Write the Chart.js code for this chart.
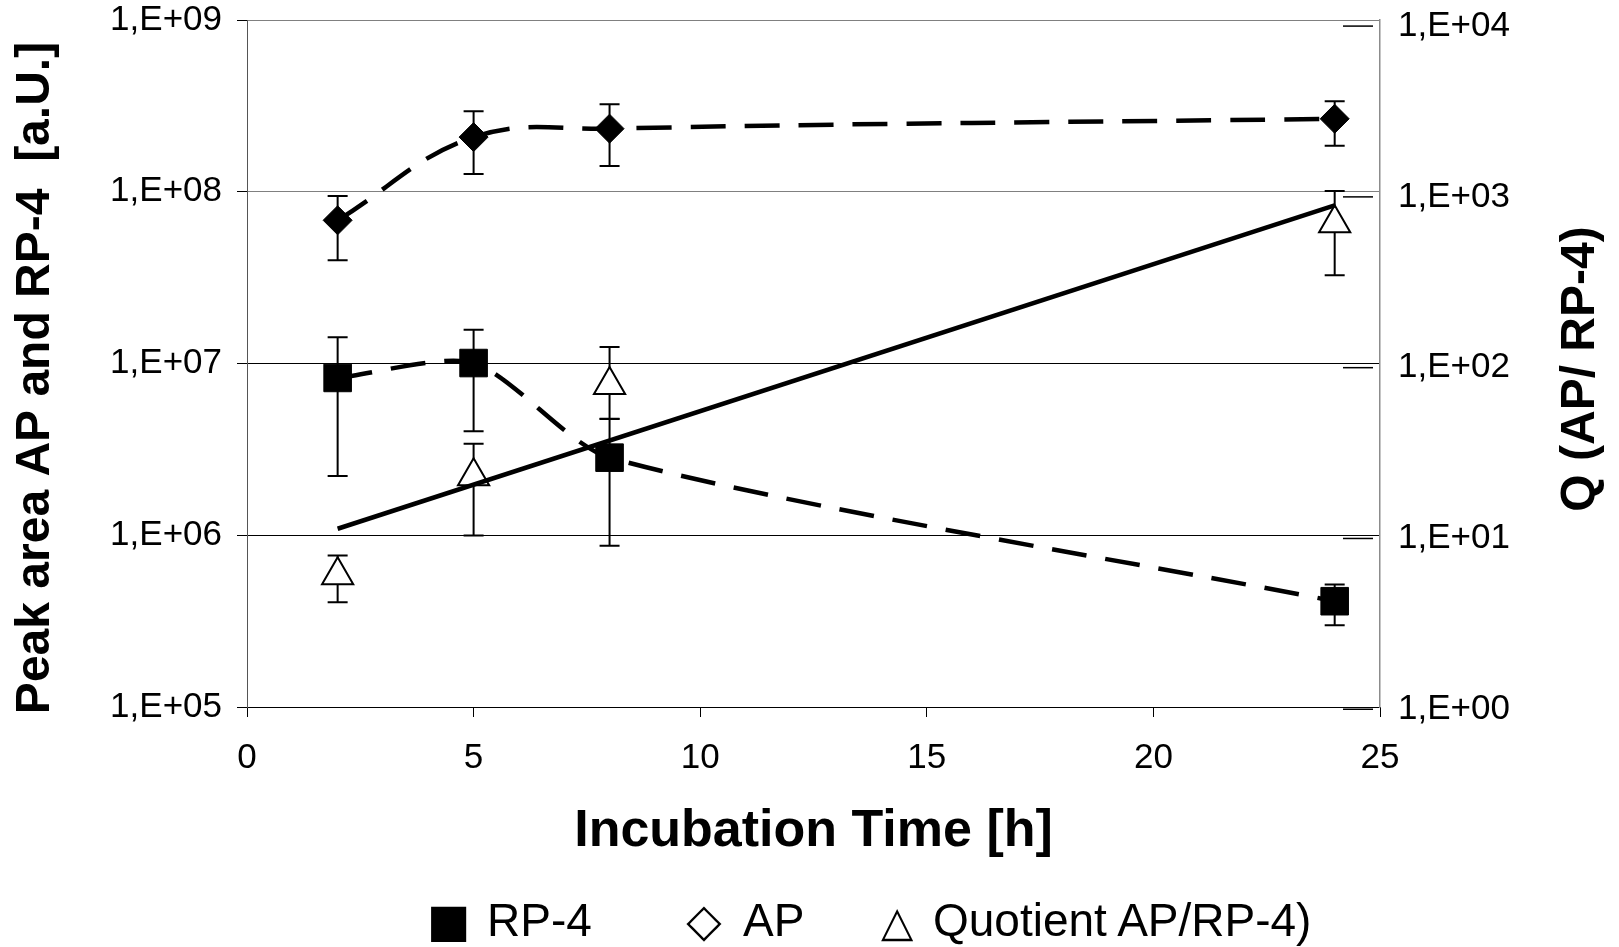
<!DOCTYPE html>
<html>
<head>
<meta charset="utf-8">
<title>Peak area AP and RP-4 vs incubation time</title>
<script src="https://cdn.jsdelivr.net/npm/chart.js@4.4.1/dist/chart.umd.min.js"></script>
<style>
  html, body { margin: 0; padding: 0; background: #fff; }
  #wrap { position: relative; width: 1619px; height: 947px; }
  #legend { position: absolute; left: 0; top: 0; width: 1619px; height: 947px; pointer-events: none;
            font-family: "Liberation Sans", Arial, sans-serif; font-size: 46px; color: #000; }
  #legend .item { position: absolute; top: 897px; display: flex; align-items: baseline; line-height: 46px; white-space: nowrap; }
  #legend .mk { display: inline-block; text-align: center; font-family: "DejaVu Sans", sans-serif; }
</style>
</head>
<body>
<div id="wrap">
  <canvas id="chart" width="1619" height="947"></canvas>
  <div id="legend"></div>
</div>
<script>
// Время инкубации (ч)
const hours = [2, 5, 8, 24];

// RP-4: площадь пика и границы ошибок
const rp4Values = [8.24e6, 1.006e7, 2.83e6, 4.13e5];
const rp4Low    = [2.21e6, 4.03e6, 8.7e5, 2.99e5];
const rp4High   = [1.42e7, 1.57e7, 4.75e6, 5.17e5];

// AP: площадь пика и границы ошибок
const apValues = [6.82e7, 2.08e8, 2.33e8, 2.66e8];
const apLow    = [3.99e7, 1.27e8, 1.41e8, 1.85e8];
const apHigh   = [9.44e7, 2.94e8, 3.23e8, 3.36e8];

// Частное AP/RP-4 (правая ось)
const quotientValues = [6.1, 23.1, 79.3, 701];
const quotientLow    = [4.23, 10.4, 50.2, 348];
const quotientHigh   = [7.96, 35.8, 132, 1083];

// Экспоненциальный тренд частного (концы линии)
const trendHours  = [2, 24];
const trendValues = [11.4, 893];

// Деления осей
const xTicks = [0, 5, 10, 15, 20, 25];
const leftTicks = [1e5, 1e6, 1e7, 1e8, 1e9];
const leftTickLabels = ['1,E+05', '1,E+06', '1,E+07', '1,E+08', '1,E+09'];
const rightTicks = [1, 10, 100, 1000, 10000];
const rightTickLabels = ['1,E+00', '1,E+01', '1,E+02', '1,E+03', '1,E+04'];

// Подписи
const seriesNames = ['RP-4', 'AP', 'Quotient AP/RP-4)'];
const legendGlyphs = ['\u25A0', '\u25C7', '\u25B3'];
const xTitle = 'Incubation Time [h]';
const leftTitle = 'Peak area AP and RP-4  [a.U.]';
const rightTitle = 'Q (AP/ RP-4)';

const FONT = '"Liberation Sans", Arial, sans-serif';
Chart.defaults.font.family = FONT;
Chart.defaults.color = '#000';

const toPoints = (xs, ys) => xs.map((x, i) => ({ x: x, y: ys[i] }));

// Планки погрешностей рисуются под маркерами
const errorBarsPlugin = {
    id: 'errorBars',
    beforeDatasetsDraw(chart) {
        const ctx = chart.ctx;
        const xScale = chart.scales.x;
        chart.data.datasets.forEach(ds => {
            if (!ds.errorLow) return;
            const yScale = chart.scales[ds.yAxisID];
            ctx.save();
            ctx.strokeStyle = '#000';
            ctx.lineWidth = 2;
            ds.data.forEach((p, j) => {
                const x = xScale.getPixelForValue(p.x);
                const yLo = yScale.getPixelForValue(ds.errorLow[j]);
                const yHi = yScale.getPixelForValue(ds.errorHigh[j]);
                ctx.beginPath();
                ctx.moveTo(x, yLo); ctx.lineTo(x, yHi);
                ctx.moveTo(x - 10, yLo); ctx.lineTo(x + 10, yLo);
                ctx.moveTo(x - 10, yHi); ctx.lineTo(x + 10, yHi);
                ctx.stroke();
            });
            ctx.restore();
        });
    }
};

// Короткие штрихи правой оси и повернутые заголовки осей Y
const axisDecorPlugin = {
    id: 'axisDecor',
    afterDraw(chart) {
        const { ctx, chartArea } = chart;
        const y2 = chart.scales.y2;
        ctx.save();
        ctx.strokeStyle = '#000';
        ctx.lineWidth = 1.5;
        rightTicks.forEach(v => {
            const y = y2.getPixelForValue(v);
            ctx.beginPath();
            ctx.moveTo(chartArea.right - 37, y);
            ctx.lineTo(chartArea.right - 7, y);
            ctx.stroke();
        });

        ctx.fillStyle = '#000';
        ctx.textAlign = 'center';
        ctx.textBaseline = 'middle';
        ctx.font = 'bold 48px ' + FONT;
        ctx.save();
        ctx.translate(36, 378);
        ctx.rotate(-Math.PI / 2);
        ctx.fillText(leftTitle, 0, 0);
        ctx.restore();
        ctx.save();
        ctx.translate(1581, 369);
        ctx.rotate(-Math.PI / 2);
        ctx.fillText(rightTitle, 0, 0);
        ctx.restore();
        ctx.restore();
    }
};

// Вертикальные оси не должны сдвигать область графика вниз
const noLabelPadding = s => { s.paddingTop = 0; s.paddingBottom = 0; };

const dashed = [35, 19];

new Chart(document.getElementById('chart'), {
    type: 'line',
    data: {
        datasets: [
            {
                label: seriesNames[2] + ' trend',
                data: toPoints(trendHours, trendValues),
                yAxisID: 'y2',
                borderColor: '#000',
                borderWidth: 4.5,
                pointRadius: 0,
                tension: 0,
                order: 0
            },
            {
                label: seriesNames[2],
                data: toPoints(hours, quotientValues),
                yAxisID: 'y2',
                showLine: false,
                pointStyle: 'triangle',
                pointRadius: 18,
                pointBackgroundColor: '#fff',
                pointBorderColor: '#000',
                pointBorderWidth: 2,
                errorLow: quotientLow,
                errorHigh: quotientHigh,
                order: 1
            },
            {
                label: seriesNames[1],
                data: toPoints(hours, apValues),
                yAxisID: 'y',
                borderColor: '#000',
                borderWidth: 4.5,
                borderDash: dashed,
                tension: 0.4,
                pointStyle: 'rectRot',
                pointRadius: 14.5,
                pointBackgroundColor: '#000',
                pointBorderColor: '#000',
                pointBorderWidth: 1,
                errorLow: apLow,
                errorHigh: apHigh,
                order: 2
            },
            {
                label: seriesNames[0],
                data: toPoints(hours, rp4Values),
                yAxisID: 'y',
                borderColor: '#000',
                borderWidth: 4.5,
                borderDash: dashed,
                tension: 0.25,
                pointStyle: 'rect',
                pointRadius: 19.5,
                pointBackgroundColor: '#000',
                pointBorderColor: '#000',
                pointBorderWidth: 1,
                errorLow: rp4Low,
                errorHigh: rp4High,
                order: 3
            }
        ]
    },
    options: {
        responsive: false,
        animation: false,
        layout: { autoPadding: false, padding: { top: 20, bottom: 84, left: 0, right: 0 } },
        plugins: {
            legend: { display: false },
            tooltip: { enabled: false }
        },
        scales: {
            x: {
                type: 'linear',
                min: 0,
                max: 25,
                afterBuildTicks: s => { s.ticks = xTicks.map(v => ({ value: v })); },
                afterFit: s => { s.height = 156; },
                grid: { drawOnChartArea: false, drawTicks: true, tickLength: 10, tickColor: '#000' },
                border: { color: '#000', width: 1 },
                ticks: { font: { size: 35 }, padding: 20, maxRotation: 0 },
                title: { display: true, text: xTitle, font: { size: 52, weight: 'bold' }, padding: 0 }
            },
            y: {
                type: 'logarithmic',
                position: 'left',
                min: 1e5,
                max: 1e9,
                bounds: 'data',
                afterBuildTicks: s => { s.ticks = leftTicks.map(v => ({ value: v })); },
                afterFit: s => { s.width = 247; noLabelPadding(s); },
                grid: {
                    color: c => (c.tick && c.tick.value >= 1e8 ? '#808080' : '#000'),
                    tickColor: '#000',
                    tickLength: 10,
                    lineWidth: 1
                },
                border: { color: '#555', width: 1 },
                ticks: {
                    font: { size: 35 },
                    padding: 15,
                    autoSkip: false,
                    callback: v => leftTickLabels[leftTicks.indexOf(v)]
                }
            },
            y2: {
                type: 'logarithmic',
                position: 'right',
                min: 1.031,
                max: 10856,
                bounds: 'data',
                afterBuildTicks: s => { s.ticks = rightTicks.map(v => ({ value: v })); },
                afterFit: s => { s.width = 239; noLabelPadding(s); },
                grid: { display: false, drawTicks: false },
                border: { color: '#8c8c8c', width: 1.5 },
                ticks: {
                    font: { size: 35 },
                    padding: 18,
                    autoSkip: false,
                    callback: v => rightTickLabels[rightTicks.indexOf(v)]
                }
            }
        }
    },
    plugins: [errorBarsPlugin, axisDecorPlugin]
});

// Легенда: символы и подписи как текст
const legendLeft = [427, 686, 881];
const glyphWidth = [30, 36, 32];
const glyphSize = [46, 46, 42];
const glyphGap = [30, 21, 20];
const legendBox = document.getElementById('legend');
seriesNames.forEach((name, i) => {
    const item = document.createElement('div');
    item.className = 'item';
    item.style.left = legendLeft[i] + 'px';
    const mk = document.createElement('span');
    mk.className = 'mk';
    mk.style.width = glyphWidth[i] + 'px';
    mk.style.fontSize = glyphSize[i] + 'px';
    mk.textContent = legendGlyphs[i];
    const tx = document.createElement('span');
    tx.style.marginLeft = glyphGap[i] + 'px';
    tx.textContent = name;
    item.appendChild(mk);
    item.appendChild(tx);
    legendBox.appendChild(item);
});
</script>
</body>
</html>
